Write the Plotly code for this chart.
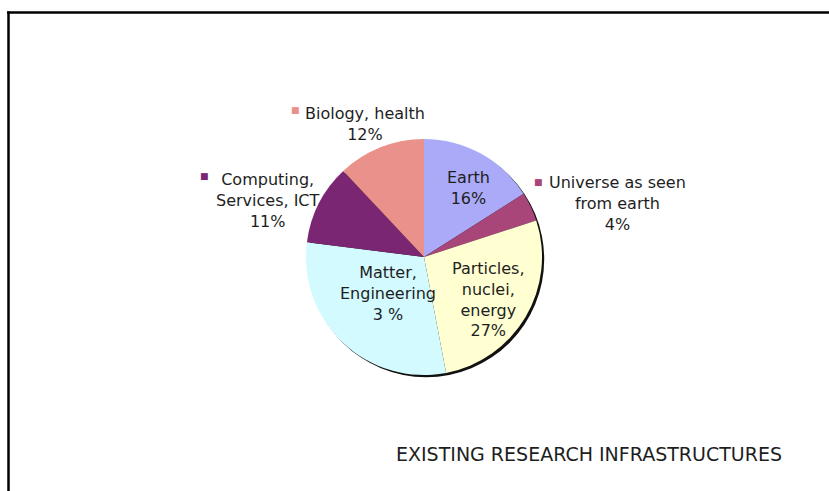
import plotly.graph_objects as go

categories = ["Earth", "Universe as seen from earth", "Particles, nuclei, energy",
              "Matter, Engineering", "Computing, Services, ICT", "Biology, health"]
values = [16, 4, 27, 30, 11, 12]
label_texts = ["Earth<br>16%", "Universe as seen<br>from earth<br>4%",
               "Particles,<br>nuclei,<br>energy<br>27%", "Matter,<br>Engineering<br>3 %",
               "Computing,<br>Services, ICT<br>11%", "Biology, health<br>12%"]
colors = ["#AAAAF8", "#A8467A", "#FFFFD2", "#D2FAFF", "#7A2673", "#EB918B"]
title_text = "EXISTING RESEARCH INFRASTRUCTURES"

W, H = 829, 491
cx, cy, r = 424, 257, 118

def px(x):
    return x / W

def py(y):
    return 1 - y / H

fig = go.Figure()
# shadow
sh = 2.2
fig.add_trace(go.Pie(values=[1], marker=dict(colors=["#111111"], line=dict(width=0)),
                     textinfo="none", hoverinfo="skip", sort=False, showlegend=False,
                     domain=dict(x=[px(cx - r + sh), px(cx + r + sh)],
                                 y=[py(cy + r + sh), py(cy - r + sh)])))
fig.add_trace(go.Pie(labels=categories, values=values, sort=False, direction="clockwise",
                     rotation=0, marker=dict(colors=colors, line=dict(width=0)),
                     textinfo="none", showlegend=False,
                     domain=dict(x=[px(cx - r), px(cx + r)], y=[py(cy + r), py(cy - r)])))

font = dict(family="DejaVu Sans", size=16, color="#1e1e1e")
# label positions (pixel centers) and marker squares
label_pos = [(468, 188), (617, 204), (488, 299), (388, 293), (268, 200), (365, 124)]
markers = [None, (538, 182), None, None, (204, 176), (295, 110)]

anns = []
for i, txt in enumerate(label_texts):
    x, y = label_pos[i]
    anns.append(dict(x=px(x), y=py(y), xref="paper", yref="paper", text=txt,
                     showarrow=False, font=font, align="center",
                     xanchor="center", yanchor="middle"))
    if markers[i]:
        mx, my = markers[i]
        anns.append(dict(x=px(mx), y=py(my), xref="paper", yref="paper", text="■",
                         showarrow=False, font=dict(family="DejaVu Sans", size=9, color=colors[i]),
                         xanchor="center", yanchor="middle"))
anns.append(dict(x=px(589), y=py(454), xref="paper", yref="paper", text=title_text,
                 showarrow=False, font=dict(family="DejaVu Sans", size=19, color="#1e1e1e"),
                 xanchor="center", yanchor="middle"))

shapes = [
    dict(type="line", xref="paper", yref="paper", x0=px(7), x1=1.01, y0=py(12.5), y1=py(12.5),
         line=dict(color="black", width=2.5)),
    dict(type="line", xref="paper", yref="paper", x0=px(8.5), x1=px(8.5), y0=py(11.5), y1=-0.01,
         line=dict(color="black", width=2.5)),
]

fig.update_layout(width=W, height=H, margin=dict(l=0, r=0, t=0, b=0),
                  paper_bgcolor="white", plot_bgcolor="white",
                  annotations=anns, shapes=shapes)
fig.write_html("out.html")
